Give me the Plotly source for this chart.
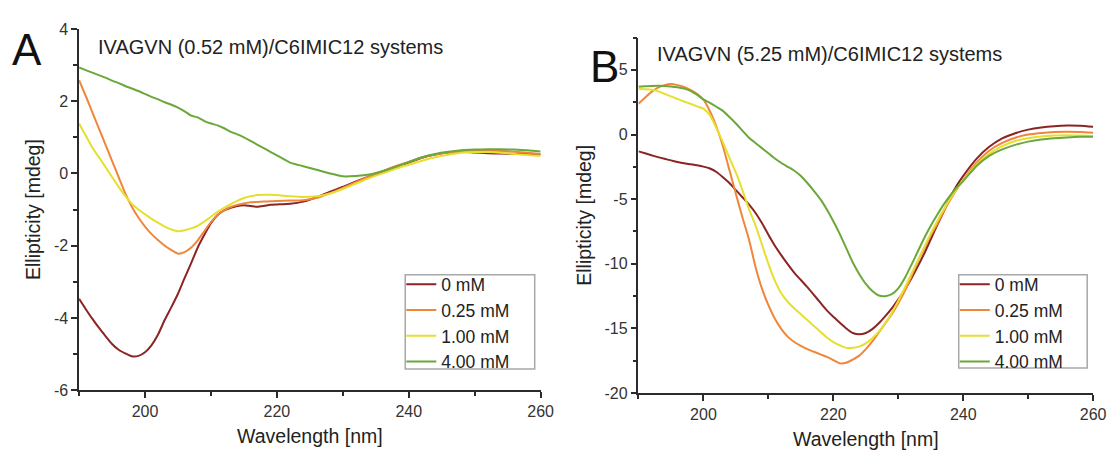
import plotly.graph_objects as go

# ---------------- data ----------------
series_names = ["0 mM", "0.25 mM", "1.00 mM", "4.00 mM"]
series_colors = ["#8B2424", "#F0863A", "#E6DF2E", "#6BA83A"]

# Panel A: IVAGVN (0.52 mM)
wl_a = list(range(190, 221)) + list(range(222, 261, 2))
a_0mM = [-3.47, -3.75, -4.02, -4.27, -4.50, -4.72, -4.88, -4.98, -5.06, -5.05,
         -4.95, -4.75, -4.45, -4.05, -3.70, -3.33, -2.90, -2.48, -2.05, -1.70,
         -1.38, -1.15, -1.02, -0.95, -0.90, -0.88, -0.90, -0.92, -0.90, -0.87,
         -0.86,
         -0.84, -0.78, -0.66, -0.51, -0.37, -0.22, -0.08, 0.05, 0.19, 0.30,
         0.43, 0.52, 0.58, 0.60, 0.58, 0.56, 0.55, 0.54, 0.54, 0.53]
a_025mM = [2.58, 2.15, 1.70, 1.25, 0.80, 0.35, -0.10, -0.55, -0.92, -1.22,
           -1.47, -1.68, -1.85, -2.00, -2.12, -2.22, -2.18, -2.05, -1.85, -1.60,
           -1.35, -1.15, -1.02, -0.93, -0.87, -0.83, -0.80, -0.79, -0.78, -0.77,
           -0.76,
           -0.75, -0.74, -0.68, -0.55, -0.40, -0.24, -0.08, 0.06, 0.20, 0.32,
           0.44, 0.52, 0.58, 0.61, 0.63, 0.63, 0.62, 0.60, 0.57, 0.54]
a_100mM = [1.38, 1.05, 0.72, 0.45, 0.18, -0.10, -0.37, -0.62, -0.84, -1.00,
           -1.13, -1.26, -1.37, -1.47, -1.55, -1.60, -1.57, -1.52, -1.45, -1.33,
           -1.20, -1.06, -0.95, -0.85, -0.76, -0.68, -0.63, -0.60, -0.59, -0.59,
           -0.60,
           -0.63, -0.65, -0.63, -0.56, -0.43, -0.28, -0.13, 0.00, 0.13, 0.24,
           0.35, 0.45, 0.52, 0.57, 0.59, 0.59, 0.57, 0.54, 0.51, 0.48]
a_400mM = [2.93, 2.86, 2.79, 2.72, 2.65, 2.57, 2.50, 2.42, 2.35, 2.28,
           2.20, 2.12, 2.05, 1.97, 1.90, 1.82, 1.72, 1.60, 1.55, 1.45,
           1.38, 1.33, 1.25, 1.15, 1.08, 1.00, 0.90, 0.80, 0.70, 0.60,
           0.50,
           0.30, 0.20, 0.10, 0.00, -0.08, -0.07, -0.03, 0.06, 0.18, 0.32,
           0.45, 0.54, 0.60, 0.64, 0.66, 0.67, 0.67, 0.66, 0.64, 0.61]

# Panel B: IVAGVN (5.25 mM)
wl_b = list(range(190, 241)) + list(range(242, 261, 2))
b_0mM = [-1.30, -1.45, -1.60, -1.75, -1.88, -2.00, -2.12, -2.22, -2.30, -2.38,
         -2.48, -2.63, -2.90, -3.30, -3.75, -4.30, -4.85, -5.40, -6.05, -6.85,
         -7.75, -8.60, -9.35, -10.05, -10.70, -11.25, -11.80, -12.40, -13.00, -13.60,
         -14.10, -14.55, -15.00, -15.35, -15.45, -15.35, -15.05, -14.60, -14.05, -13.45,
         -12.75, -12.00, -11.15, -10.20, -9.20, -8.10, -7.00, -5.95, -4.85, -3.95,
         -3.20,
         -1.90, -0.95, -0.30, 0.10, 0.38, 0.55, 0.65, 0.70, 0.68, 0.60]
b_025mM = [2.38, 2.85, 3.30, 3.62, 3.82, 3.90, 3.82, 3.68, 3.45, 3.15,
           2.70, 1.80, 0.60, -0.90, -2.75, -4.60, -6.40, -8.10, -10.20, -11.90,
           -13.20, -14.25, -15.05, -15.65, -16.05, -16.35, -16.60, -16.80, -17.00, -17.20,
           -17.45, -17.70, -17.65, -17.40, -17.10, -16.60, -16.00, -15.30, -14.60, -13.90,
           -13.05, -12.10, -11.00, -9.80, -8.80, -7.80, -6.90, -5.95, -5.05, -4.25,
           -3.50,
           -2.20, -1.25, -0.65, -0.25, 0.00, 0.12, 0.20, 0.22, 0.20, 0.13]
b_100mM = [3.53, 3.50, 3.46, 3.35, 3.15, 2.95, 2.75, 2.55, 2.38, 2.18,
           2.00, 1.50, 0.50, -0.60, -1.80, -2.95, -4.30, -5.75, -7.00, -8.50,
           -10.00, -11.30, -12.30, -12.95, -13.45, -13.90, -14.35, -14.80, -15.25, -15.70,
           -16.05, -16.30, -16.50, -16.50, -16.40, -16.15, -15.75, -15.25, -14.60, -13.80,
           -12.85, -11.85, -10.80, -9.75, -8.70, -7.65, -6.70, -5.80, -4.95, -4.20,
           -3.55,
           -2.35, -1.50, -0.90, -0.50, -0.28, -0.15, -0.08, -0.05, -0.08, -0.12]
b_400mM = [3.70, 3.73, 3.76, 3.77, 3.76, 3.72, 3.65, 3.55, 3.38, 3.08,
           2.72, 2.45, 2.15, 1.83, 1.35, 0.85, 0.30, -0.25, -0.65, -1.05,
           -1.45, -1.85, -2.20, -2.50, -2.80, -3.20, -3.75, -4.35, -5.00, -5.80,
           -6.70, -7.70, -8.80, -9.90, -10.80, -11.55, -12.10, -12.45, -12.50, -12.35,
           -11.90, -11.10, -10.10, -9.05, -8.00, -7.05, -6.20, -5.40, -4.70, -4.10,
           -3.60,
           -2.45, -1.65, -1.15, -0.80, -0.55, -0.38, -0.28, -0.22, -0.18, -0.17]

panel_a_title = "IVAGVN (0.52 mM)/C6IMIC12 systems"
panel_b_title = "IVAGVN (5.25 mM)/C6IMIC12 systems"
x_title = "Wavelength [nm]"
y_title = "Ellipticity [mdeg]"
x_ticks = [200, 220, 240, 260]
y_ticks_a = [-6, -4, -2, 0, 2, 4]
y_ticks_b = [-20, -15, -10, -5, 0, 5]

# ---------------- figure ----------------
W, H = 1118, 457
FONT = "Liberation Sans, Arial, sans-serif"
AX = "#2b2b2b"

fig = go.Figure()

for name, col, vals in zip(series_names, series_colors, [a_0mM, a_025mM, a_100mM, a_400mM]):
    fig.add_trace(go.Scatter(x=wl_a, y=vals, name=name, mode="lines",
                             line=dict(color=col, width=2, shape="spline", smoothing=0.6),
                             xaxis="x", yaxis="y", legend="legend"))
for name, col, vals in zip(series_names, series_colors, [b_0mM, b_025mM, b_100mM, b_400mM]):
    fig.add_trace(go.Scatter(x=wl_b, y=vals, name=name, mode="lines",
                             line=dict(color=col, width=2, shape="spline", smoothing=0.6),
                             xaxis="x2", yaxis="y2", legend="legend2"))


def px_x(p):
    return p / W


def px_y(p):
    return 1 - p / H


def xaxis_cfg(dom, anchor):
    return dict(domain=dom, anchor=anchor, range=[190, 260],
                tickmode="array", tickvals=x_ticks, ticktext=[str(v) for v in x_ticks],
                ticks="outside", ticklen=6, tickwidth=1.5, tickcolor=AX,
                minor=dict(tick0=190, dtick=10, ticks="outside", ticklen=4,
                           tickwidth=1.5, tickcolor=AX, showgrid=False),
                showline=True, linecolor=AX, linewidth=1.5, showgrid=False,
                zeroline=False, tickfont=dict(size=16, color="#333", family=FONT),
                title=dict(text=x_title, font=dict(size=19.5, color="#222", family=FONT),
                           standoff=10))


def yaxis_cfg(dom, anchor, rng, vals, mdt):
    return dict(domain=dom, anchor=anchor, range=rng,
                tickmode="array", tickvals=vals, ticktext=[str(v) for v in vals],
                ticks="outside", ticklen=6, tickwidth=1.5, tickcolor=AX,
                minor=dict(tick0=0, dtick=mdt, ticks="outside", ticklen=4,
                           tickwidth=1.5, tickcolor=AX, showgrid=False),
                showline=True, linecolor=AX, linewidth=1.5, showgrid=False,
                zeroline=False, tickfont=dict(size=16, color="#333", family=FONT),
                title=dict(text=y_title, font=dict(size=19.5, color="#222", family=FONT),
                           standoff=8))


legend_style = dict(bgcolor="rgba(255,255,255,0)", borderwidth=0,
                    font=dict(size=17.5, color="#222", family=FONT),
                    xanchor="left", yanchor="middle", tracegroupgap=0)

fig.update_layout(
    width=W, height=H,
    margin=dict(l=0, r=0, t=0, b=0),
    paper_bgcolor="white", plot_bgcolor="white",
    font=dict(family=FONT, color="#222"),
    xaxis=xaxis_cfg([px_x(80), px_x(547)], "y"),
    yaxis=yaxis_cfg([px_y(397), px_y(21.7)], "x", [-6, 4], y_ticks_a, 1),
    xaxis2=xaxis_cfg([px_x(646), px_x(1106)], "y2"),
    yaxis2=yaxis_cfg([px_y(400), px_y(30.7)], "x2", [-20, 7.5], y_ticks_b, 2.5),
    legend=dict(x=px_x(406), y=px_y(327), **legend_style),
    legend2=dict(x=px_x(966), y=px_y(327), **legend_style),
    showlegend=True,
)

# legend frames
for (x0, x1, y0, y1) in [(410, 541, 277, 375), (970, 1100, 277, 374)]:
    fig.add_shape(type="rect", xref="paper", yref="paper",
                  x0=px_x(x0), x1=px_x(x1), y0=px_y(y1), y1=px_y(y0),
                  line=dict(color="#a8a8a8", width=1.5), fillcolor="rgba(0,0,0,0)",
                  layer="above")

annotations = [
    dict(text="A", x=px_x(27), y=px_y(43), xref="paper", yref="paper",
         xanchor="center", yanchor="middle",
         showarrow=False, font=dict(size=44, color="#111", family=FONT)),
    dict(text="B", x=px_x(612), y=px_y(61), xref="paper", yref="paper",
         xanchor="center", yanchor="middle",
         showarrow=False, font=dict(size=44, color="#111", family=FONT)),
    dict(text=panel_a_title, x=px_x(97), y=px_y(40), xref="paper", yref="paper",
         xanchor="left", yanchor="middle",
         showarrow=False, font=dict(size=20, color="#222", family=FONT)),
    dict(text=panel_b_title, x=px_x(663), y=px_y(48), xref="paper", yref="paper",
         xanchor="left", yanchor="middle",
         showarrow=False, font=dict(size=20, color="#222", family=FONT)),
]
fig.update_layout(annotations=annotations)

fig.write_html("out.html",
               config={"displayModeBar": False},
               post_script="document.body.style.margin='0';document.body.style.overflow='hidden';")
